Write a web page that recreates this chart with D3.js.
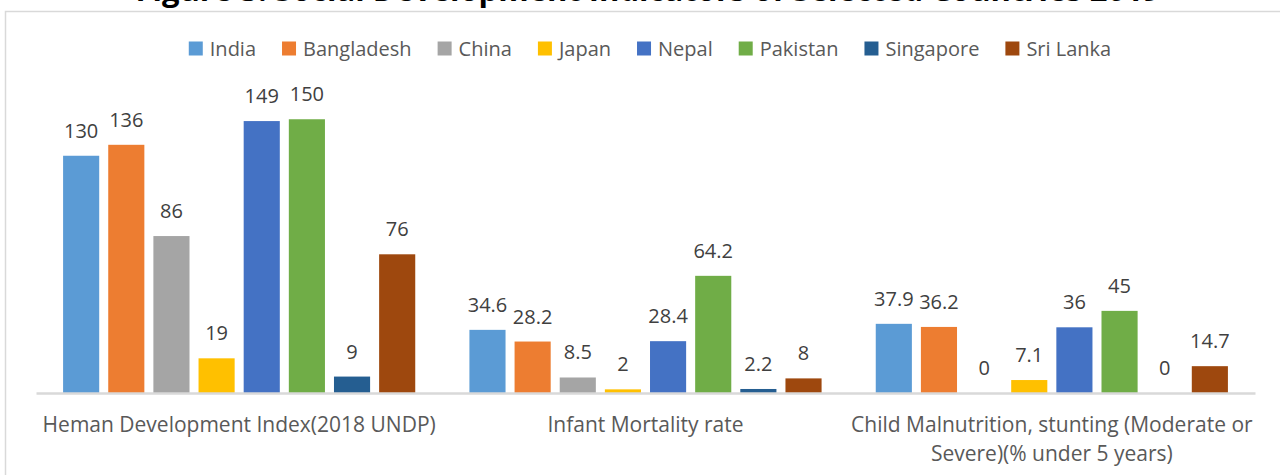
<!DOCTYPE html>
<html>
<head>
<meta charset="utf-8">
<script src="https://cdn.jsdelivr.net/npm/d3@7"></script>
<style>
body { margin: 0; background: #fff; }
text { font-family: "Open Sans", sans-serif; }
</style>
</head>
<body>
<svg id="myGraph" width="1280" height="475"></svg>
<script>
// data
var titleText = "Figure 3: Social Development Indicators of Selected Countries 2019"
var indicators = ["Heman Development Index(2018 UNDP)", "Infant Mortality rate", "Child Malnutrition, stunting (Moderate or Severe)(% under 5 years)"]
var countries = ["India", "Bangladesh", "China", "Japan", "Nepal", "Pakistan", "Singapore", "Sri Lanka"]
var hdi = [130, 136, 86, 19, 149, 150, 9, 76]
var infantMortality = [34.6, 28.2, 8.5, 2, 28.4, 64.2, 2.2, 8]
var stunting = [37.9, 36.2, 0, 7.1, 36, 45, 0, 14.7]
var colors = ["#5B9BD5", "#ED7D31", "#A5A5A5", "#FFC000", "#4472C4", "#70AD47", "#255E91", "#9E480E"]

var seriesByIndicator = [hdi, infantMortality, stunting]

var svg = d3.select("#myGraph")
var textColor = "#595959"
var fontSize = 20

// chart frame
svg.append("rect")
	.attr("x", 5.5).attr("y", 11.5)
	.attr("width", 1300).attr("height", 500)
	.attr("fill", "none")
	.attr("stroke", "#D9D9D9")
	.attr("stroke-width", 1.5)

// title (clipped at top, only the bottom shows)
svg.append("text")
	.attr("x", 648).attr("y", 1)
	.attr("text-anchor", "middle")
	.style("font-size", "31px")
	.style("font-weight", "bold")
	.attr("fill", "#000")
	.text(titleText)

// scales
var x0 = d3.scaleBand()
	.domain(indicators)
	.range([36, 1255])

var x1 = d3.scaleBand()
	.domain(countries)
	.range([0, x0.bandwidth()])
	.paddingInner(0.2)
	.paddingOuter(0.6)

var y = d3.scaleLinear()
	.domain([0, 160])
	.range([393, 101])

// bars
var groups = svg.append("g")
	.selectAll("g")
	.data(indicators)
	.enter()
	.append("g")
	.attr("transform", function(d) { return "translate(" + x0(d) + ",0)" })

var cells = groups.selectAll("g.cell")
	.data(function(d, i) {
		return countries.map(function(c, j) { return { country: c, value: seriesByIndicator[i][j], idx: j } })
	})
	.enter()
	.append("g")
	.attr("class", "cell")

cells.append("rect")
	.attr("x", function(d) { return x1(d.country) })
	.attr("width", x1.bandwidth())
	.attr("y", function(d) { return y(d.value) })
	.attr("height", function(d) { return y(0) - y(d.value) })
	.attr("fill", function(d) { return colors[d.idx] })

cells.append("text")
	.attr("x", function(d) { return x1(d.country) + x1.bandwidth() / 2 })
	.attr("y", function(d) { return y(d.value) - 18 })
	.attr("text-anchor", "middle")
	.style("font-size", fontSize + "px")
	.attr("fill", "#404040")
	.text(function(d) { return d.value })

// x axis
var xAxis = d3.axisBottom(x0).tickSize(0).tickSizeOuter(0)
var axisG = svg.append("g")
	.attr("transform", "translate(0," + y(0) + ")")
	.call(xAxis)

axisG.select(".domain")
	.attr("stroke", "#D9D9D9")
	.attr("stroke-width", 2.5)

axisG.selectAll(".tick text")
	.attr("y", 39)
	.attr("dy", 0)
	.style("font-size", "21px")
	.style("font-family", "'Open Sans', sans-serif")
	.attr("fill", textColor)
	.call(wrap, x0.bandwidth() + 4)

function wrap(sel, width) {
	sel.each(function() {
		var text = d3.select(this)
		var words = text.text().split(/\s+/)
		var line = []
		var lineNo = 0
		var yy = text.attr("y")
		text.text(null)
		var tspan = text.append("tspan").attr("x", 0).attr("y", yy)
		words.forEach(function(w) {
			line.push(w)
			tspan.text(line.join(" "))
			if (tspan.node().getComputedTextLength() > width && line.length > 1) {
				line.pop()
				tspan.text(line.join(" "))
				line = [w]
				lineNo++
				tspan = text.append("tspan").attr("x", 0).attr("y", +yy + lineNo * 28.5).text(w)
			}
		})
	})
}

// legend
var legend = svg.append("g")
var lx = 0
countries.forEach(function(c, i) {
	var g = legend.append("g")
	g.append("rect")
		.attr("x", 0).attr("y", 41.5)
		.attr("width", 14).attr("height", 14)
		.attr("fill", colors[i])
	var t = g.append("text")
		.attr("x", 21).attr("y", 55.5)
		.style("font-size", fontSize + "px")
		.attr("fill", textColor)
		.text(c)
	var w = 21 + t.node().getComputedTextLength()
	g.attr("transform", "translate(" + lx + ",0)")
	lx += w + 26
})
var legendWidth = lx - 26
legend.attr("transform", "translate(" + (650 - legendWidth / 2) + ",0)")
</script>
</body>
</html>
